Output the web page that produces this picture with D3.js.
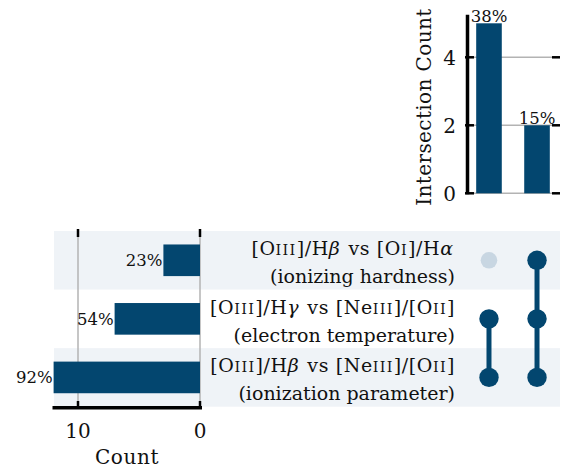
<!DOCTYPE html>
<html><head><meta charset="utf-8">
<script src="https://cdn.jsdelivr.net/npm/d3@7"></script>
<style>body{margin:0;background:#fff}svg{display:block}text{font-family:"DejaVu Serif",serif;fill:#111}</style>
</head><body><svg id="c" width="572" height="469"></svg>
<script>
// ---- data ----
const setNames = ["ionizing hardness", "electron temperature", "ionization parameter"];
// label line 1 as segments: [text, kind] (0 normal, 1 small caps numeral, 2 italic greek)
const setLine1 = [
  [["[O",0],["III",1],["]/H",0],["β",2],[" vs [O",0],["I",1],["]/H",0],["α",2]],
  [["[O",0],["III",1],["]/H",0],["γ",2],[" vs [Ne",0],["III",1],["]/[O",0],["II",1],["]",0]],
  [["[O",0],["III",1],["]/H",0],["β",2],[" vs [Ne",0],["III",1],["]/[O",0],["II",1],["]",0]]
];
const setTotals = [3, 7, 12];
const intersectionMembers = [[1, 2], [0, 1, 2]];
const intersectionCounts = [5, 2];
const totalObjects = 13;
const topTicks = [0, 2, 4];
const leftTicks = [10, 0];

// ---- styles ----
const BLUE = "#03466f", BAND = "#eff3f7", OFF = "#c8d6e2", GRID = "#b3b3b3";
const FS_LAB = 19, FS_AX = 20, FS_PCT = 16.5;
const svg = d3.select("#c");

// scales
const yRow = d3.scaleBand().domain(d3.range(setNames.length)).range([231, 406.7]);
const xCol = d3.scaleBand().domain(d3.range(intersectionCounts.length)).range([465, 561]).paddingInner(0.467).paddingOuter(0.233);
const yTop = d3.scaleLinear().domain([0, 5.25]).range([193.3, 14.8]);
const xLeft = d3.scaleLinear().domain([0, 10]).range([200, 78]);

// bands
svg.selectAll("rect.band").data(d3.range(setNames.length).filter(i => i % 2 === 0)).join("rect")
  .attr("x", 54).attr("width", 506).attr("y", i => yRow(i)).attr("height", yRow.bandwidth())
  .attr("fill", BAND);

// ---- top intersection bars ----
topTicks.forEach(t => {
  svg.append("line").attr("x1", 467).attr("x2", 552).attr("y1", yTop(t)).attr("y2", yTop(t))
    .attr("stroke", GRID).attr("stroke-width", 1.5);
  svg.append("line").attr("x1", 552).attr("x2", 560).attr("y1", yTop(t)).attr("y2", yTop(t))
    .attr("stroke", "#000").attr("stroke-width", 2.5);
  svg.append("line").attr("x1", 465).attr("x2", 474).attr("y1", yTop(t)).attr("y2", yTop(t))
    .attr("stroke", "#000").attr("stroke-width", 2.5);
  svg.append("text").attr("x", 456).attr("y", yTop(t)).attr("dy", "0.36em").attr("text-anchor", "end")
    .attr("font-size", FS_AX).text(t);
});
svg.selectAll("rect.ib").data(intersectionCounts).join("rect")
  .attr("x", (d, i) => xCol(i)).attr("width", xCol.bandwidth())
  .attr("y", d => yTop(d)).attr("height", d => yTop(0) - yTop(d)).attr("fill", BLUE);
svg.selectAll("text.ip").data(intersectionCounts).join("text")
  .attr("x", (d, i) => xCol(i) + xCol.bandwidth() / 2).attr("y", d => yTop(d) - 1.5)
  .attr("text-anchor", "middle").attr("font-size", FS_PCT)
  .text(d => Math.round(d / totalObjects * 100) + "%");
svg.append("line").attr("x1", 467.5).attr("x2", 467.5).attr("y1", yTop(5.25)).attr("y2", yTop(0) + 1)
  .attr("stroke", "#000").attr("stroke-width", 3.5);
svg.append("text").attr("transform", `translate(431,${(yTop(0) + yTop(5.25)) / 2 + 3}) rotate(-90)`)
  .attr("text-anchor", "middle").attr("font-size", FS_AX).attr("letter-spacing", 0.4).text("Intersection Count");

// ---- left set-size bars ----
leftTicks.forEach(t => {
  svg.append("line").attr("x1", xLeft(t)).attr("x2", xLeft(t)).attr("y1", 237).attr("y2", 402)
    .attr("stroke", GRID).attr("stroke-width", 1.5);
  [[229, 237], [401, 408]].forEach(([a, b]) =>
    svg.append("line").attr("x1", xLeft(t)).attr("x2", xLeft(t)).attr("y1", a).attr("y2", b)
      .attr("stroke", "#000").attr("stroke-width", 2.5));
  svg.append("text").attr("x", xLeft(t)).attr("y", 431).attr("dy", "0.36em").attr("text-anchor", "middle")
    .attr("font-size", FS_AX).text(t);
});
const bh = yRow.bandwidth() * 0.54;
svg.selectAll("rect.sb").data(setTotals).join("rect")
  .attr("x", d => xLeft(d)).attr("width", d => xLeft(0) - xLeft(d))
  .attr("y", (d, i) => yRow(i) + (yRow.bandwidth() - bh) / 2).attr("height", bh).attr("fill", BLUE);
svg.selectAll("text.sp").data(setTotals).join("text")
  .attr("x", d => xLeft(d) - 1).attr("y", (d, i) => yRow(i) + yRow.bandwidth() / 2).attr("dy", "0.36em")
  .attr("text-anchor", "end").attr("font-size", FS_PCT)
  .text(d => Math.round(d / totalObjects * 100) + "%");
svg.append("line").attr("x1", 52.5).attr("x2", 202).attr("y1", 407.7).attr("y2", 407.7)
  .attr("stroke", "#000").attr("stroke-width", 3.5);
svg.append("text").attr("x", 127).attr("y", 464).attr("text-anchor", "middle").attr("font-size", FS_AX)
  .attr("letter-spacing", 0.6).text("Count");

// ---- set labels ----
setLine1.forEach((segs, i) => {
  const cy = yRow(i) + yRow.bandwidth() / 2;
  const t1 = svg.append("text").attr("x", 455).attr("y", cy - 5).attr("text-anchor", "end")
    .attr("font-size", FS_LAB).attr("letter-spacing", 0.6);
  segs.forEach(([s, k]) => {
    const ts = t1.append("tspan").text(s);
    if (k === 1) ts.attr("font-size", FS_LAB * 0.76).attr("letter-spacing", 1.3);
    if (k === 2) ts.attr("font-style", "italic").attr("letter-spacing", 2);
  });
  svg.append("text").attr("x", 455).attr("y", cy + 23).attr("text-anchor", "end").attr("font-size", FS_LAB)
    .text("(" + setNames[i] + ")");
});

// ---- matrix ----
intersectionMembers.forEach((mem, c) => {
  const cx = xCol(c) + xCol.bandwidth() / 2;
  const ys = mem.map(i => yRow(i) + yRow.bandwidth() / 2);
  svg.append("line").attr("x1", cx).attr("x2", cx).attr("y1", d3.min(ys)).attr("y2", d3.max(ys))
    .attr("stroke", BLUE).attr("stroke-width", 5);
  d3.range(setNames.length).forEach(i => {
    const on = mem.includes(i);
    svg.append("circle").attr("cx", cx).attr("cy", yRow(i) + yRow.bandwidth() / 2)
      .attr("r", on ? 9.7 : 8.3).attr("fill", on ? BLUE : OFF);
  });
});
</script></body></html>
